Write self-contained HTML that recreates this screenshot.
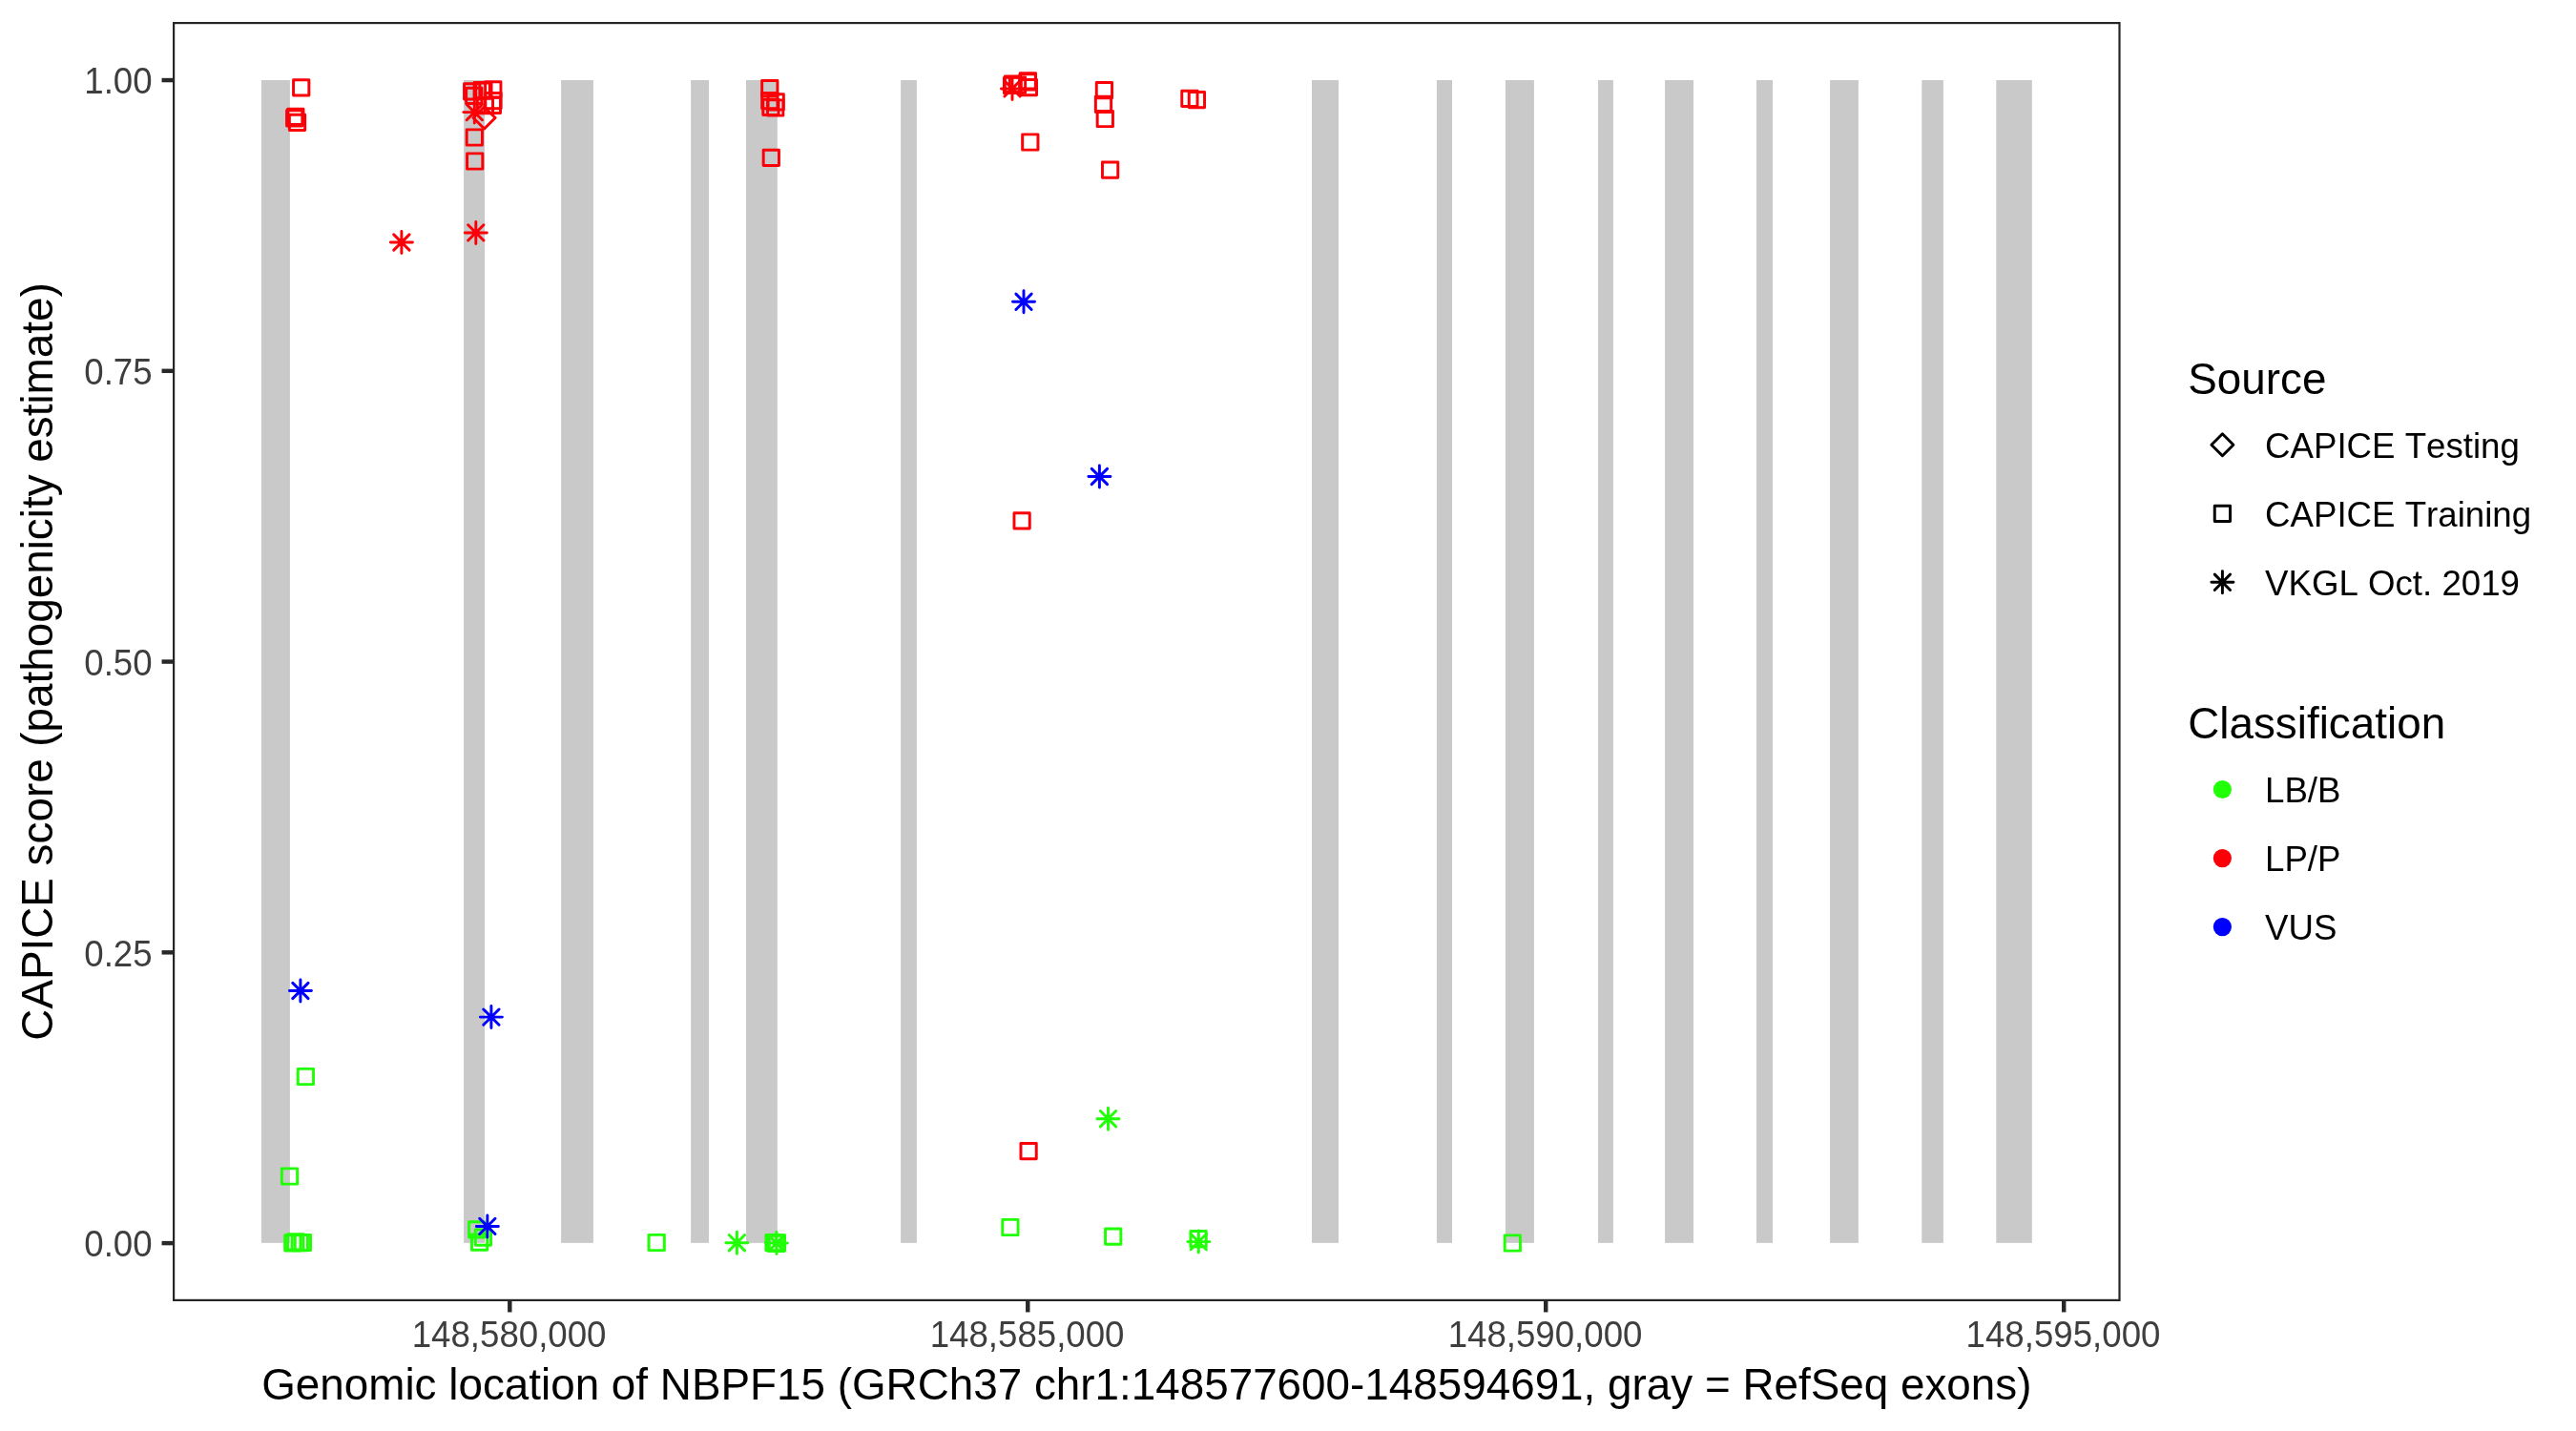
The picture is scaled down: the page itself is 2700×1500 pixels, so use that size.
<!DOCTYPE html>
<html><head><meta charset="utf-8"><title>NBPF15 CAPICE</title>
<style>html,body{margin:0;padding:0;background:#fff}svg{display:block;will-change:transform}text{font-family:"Liberation Sans",sans-serif;font-kerning:none}.t{font-size:36.67px;fill:#3E3E3E}.l{font-size:36.67px;fill:#000}.h{font-size:45.83px;fill:#000}</style></head><body>
<svg width="2700" height="1500" viewBox="0 0 2700 1500">
<rect width="2700" height="1500" fill="#fff"/>
<g fill="#C9C9C9">
<rect x="273.9" y="84" width="30" height="1218.85"/>
<rect x="486.1" y="84" width="21.9" height="1218.85"/>
<rect x="588.1" y="84" width="33.8" height="1218.85"/>
<rect x="724.1" y="84" width="18.9" height="1218.85"/>
<rect x="782" y="84" width="32.8" height="1218.85"/>
<rect x="944.1" y="84" width="16.8" height="1218.85"/>
<rect x="1375" y="84" width="28" height="1218.85"/>
<rect x="1505.9" y="84" width="16.1" height="1218.85"/>
<rect x="1577.9" y="84" width="30" height="1218.85"/>
<rect x="1675" y="84" width="15.9" height="1218.85"/>
<rect x="1745.1" y="84" width="29.9" height="1218.85"/>
<rect x="1841" y="84" width="17" height="1218.85"/>
<rect x="1918.1" y="84" width="29.8" height="1218.85"/>
<rect x="2014.3" y="84" width="22.6" height="1218.85"/>
<rect x="2092.3" y="84" width="37.5" height="1218.85"/>
</g>
<g fill="none" stroke-width="2.95" stroke-linejoin="round" stroke-linecap="round">
<rect x="298.66" y="1294.76" width="16.28" height="16.28" stroke="#21FF06"/>
<rect x="301.56" y="1293.76" width="16.28" height="16.28" stroke="#21FF06"/>
<rect x="306.16" y="1294.46" width="16.28" height="16.28" stroke="#21FF06"/>
<rect x="309.26" y="1294.36" width="16.28" height="16.28" stroke="#21FF06"/>
<rect x="312.26" y="1120.36" width="16.28" height="16.28" stroke="#21FF06"/>
<rect x="295.36" y="1224.86" width="16.28" height="16.28" stroke="#21FF06"/>
<rect x="491.56" y="1280.66" width="16.28" height="16.28" stroke="#21FF06"/>
<rect x="494.46" y="1293.96" width="16.28" height="16.28" stroke="#21FF06"/>
<rect x="498.26" y="1289.06" width="16.28" height="16.28" stroke="#21FF06"/>
<rect x="680.06" y="1294.36" width="16.28" height="16.28" stroke="#21FF06"/>
<path d="M764.26 1294.56L780.54 1310.84M764.26 1310.84L780.54 1294.56M760.89 1302.7L783.91 1302.7M772.4 1291.19L772.4 1314.21" stroke="#21FF06"/>
<rect x="802.86" y="1294.46" width="16.28" height="16.28" stroke="#21FF06"/>
<rect x="805.56" y="1295.16" width="16.28" height="16.28" stroke="#21FF06"/>
<rect x="806.26" y="1294.66" width="16.28" height="16.28" stroke="#21FF06"/>
<path d="M805.76 1294.96L822.04 1311.24M805.76 1311.24L822.04 1294.96M802.39 1303.1L825.41 1303.1M813.9 1291.59L813.9 1314.61" stroke="#21FF06"/>
<rect x="1050.76" y="1278.36" width="16.28" height="16.28" stroke="#21FF06"/>
<rect x="1158.56" y="1288.06" width="16.28" height="16.28" stroke="#21FF06"/>
<rect x="1247.96" y="1290.56" width="16.28" height="16.28" stroke="#21FF06"/>
<path d="M1248.16 1293.46L1264.44 1309.74M1248.16 1309.74L1264.44 1293.46M1244.79 1301.6L1267.81 1301.6M1256.3 1290.09L1256.3 1313.11" stroke="#21FF06"/>
<rect x="1577.16" y="1294.86" width="16.28" height="16.28" stroke="#21FF06"/>
<path d="M1153.36 1164.56L1169.64 1180.84M1153.36 1180.84L1169.64 1164.56M1149.99 1172.7L1173.01 1172.7M1161.5 1161.19L1161.5 1184.21" stroke="#21FF06"/>
<rect x="307.56" y="83.66" width="16.28" height="16.28" stroke="#FB0007"/>
<rect x="300.56" y="115.66" width="16.28" height="16.28" stroke="#FB0007"/>
<rect x="301.66" y="114.26" width="16.28" height="16.28" stroke="#FB0007"/>
<rect x="303.36" y="120.16" width="16.28" height="16.28" stroke="#FB0007"/>
<rect x="486.56" y="87.66" width="16.28" height="16.28" stroke="#FB0007"/>
<rect x="488.66" y="92.26" width="16.28" height="16.28" stroke="#FB0007"/>
<rect x="497.06" y="86.56" width="16.28" height="16.28" stroke="#FB0007"/>
<rect x="498.76" y="87.06" width="16.28" height="16.28" stroke="#FB0007"/>
<rect x="508.66" y="85.81" width="16.28" height="16.28" stroke="#FB0007"/>
<rect x="508.86" y="97.46" width="16.28" height="16.28" stroke="#FB0007"/>
<rect x="508.26" y="102.16" width="16.28" height="16.28" stroke="#FB0007"/>
<rect x="500.26" y="102.46" width="16.28" height="16.28" stroke="#FB0007"/>
<path d="M489.16 109.46L505.44 125.74M489.16 125.74L505.44 109.46M485.79 117.6L508.81 117.6M497.3 106.09L497.3 129.11" stroke="#FB0007"/>
<path d="M496.09 123.5L507.6 111.99L519.11 123.5L507.6 135.01Z" stroke="#FB0007"/>
<rect x="489.16" y="135.86" width="16.28" height="16.28" stroke="#FB0007"/>
<rect x="489.56" y="160.86" width="16.28" height="16.28" stroke="#FB0007"/>
<path d="M412.76 245.86L429.04 262.14M412.76 262.14L429.04 245.86M409.39 254L432.41 254M420.9 242.49L420.9 265.51" stroke="#FB0007"/>
<path d="M490.66 235.76L506.94 252.04M490.66 252.04L506.94 235.76M487.29 243.9L510.31 243.9M498.8 232.39L498.8 255.41" stroke="#FB0007"/>
<rect x="798.66" y="84.56" width="16.28" height="16.28" stroke="#FB0007"/>
<rect x="798.66" y="97.56" width="16.28" height="16.28" stroke="#FB0007"/>
<rect x="805.06" y="98.76" width="16.28" height="16.28" stroke="#FB0007"/>
<rect x="799.76" y="104.16" width="16.28" height="16.28" stroke="#FB0007"/>
<rect x="804.56" y="104.86" width="16.28" height="16.28" stroke="#FB0007"/>
<rect x="800.16" y="157.26" width="16.28" height="16.28" stroke="#FB0007"/>
<path d="M1052.86 84.76L1069.14 101.04M1052.86 101.04L1069.14 84.76M1049.49 92.9L1072.51 92.9M1061 81.39L1061 104.41" stroke="#FB0007"/>
<rect x="1069.26" y="76.66" width="16.28" height="16.28" stroke="#FB0007"/>
<rect x="1069.06" y="77.76" width="16.28" height="16.28" stroke="#FB0007"/>
<rect x="1070.26" y="83.56" width="16.28" height="16.28" stroke="#FB0007"/>
<rect x="1058.36" y="80.96" width="16.28" height="16.28" stroke="#FB0007"/>
<rect x="1053.36" y="79.96" width="16.28" height="16.28" stroke="#FB0007"/>
<rect x="1052.46" y="81.36" width="16.28" height="16.28" stroke="#FB0007"/>
<rect x="1071.66" y="140.86" width="16.28" height="16.28" stroke="#FB0007"/>
<rect x="1149.26" y="86.56" width="16.28" height="16.28" stroke="#FB0007"/>
<rect x="1148.36" y="101.16" width="16.28" height="16.28" stroke="#FB0007"/>
<rect x="1150.16" y="116.36" width="16.28" height="16.28" stroke="#FB0007"/>
<rect x="1155.46" y="170.06" width="16.28" height="16.28" stroke="#FB0007"/>
<rect x="1238.76" y="95.26" width="16.28" height="16.28" stroke="#FB0007"/>
<rect x="1246.26" y="96.46" width="16.28" height="16.28" stroke="#FB0007"/>
<rect x="1062.96" y="537.66" width="16.28" height="16.28" stroke="#FB0007"/>
<rect x="1069.96" y="1198.56" width="16.28" height="16.28" stroke="#FB0007"/>
<path d="M1064.86 308.16L1081.14 324.44M1064.86 324.44L1081.14 308.16M1061.49 316.3L1084.51 316.3M1073 304.79L1073 327.81" stroke="#0000FF"/>
<path d="M1144.26 491.36L1160.54 507.64M1144.26 507.64L1160.54 491.36M1140.89 499.5L1163.91 499.5M1152.4 487.99L1152.4 511.01" stroke="#0000FF"/>
<path d="M306.76 1030.36L323.04 1046.64M306.76 1046.64L323.04 1030.36M303.39 1038.5L326.41 1038.5M314.9 1026.99L314.9 1050.01" stroke="#0000FF"/>
<path d="M506.76 1057.96L523.04 1074.24M506.76 1074.24L523.04 1057.96M503.39 1066.1L526.41 1066.1M514.9 1054.59L514.9 1077.61" stroke="#0000FF"/>
<path d="M502.71 1277.26L518.99 1293.54M502.71 1293.54L518.99 1277.26M499.34 1285.4L522.36 1285.4M510.85 1273.89L510.85 1296.91" stroke="#0000FF"/>
</g>
<rect x="182.1" y="24.1" width="2039.4" height="1338.8" fill="none" stroke="#262626" stroke-width="2.2"/>
<g stroke="#282828" stroke-width="4.45">
<path d="M169.54 1303.1H181"/>
<path d="M169.54 998.34H181"/>
<path d="M169.54 693.57H181"/>
<path d="M169.54 388.81H181"/>
<path d="M169.54 84.05H181"/>
<path d="M534.3 1364V1375.46"/>
<path d="M1077.27 1364V1375.46"/>
<path d="M1620.23 1364V1375.46"/>
<path d="M2163.2 1364V1375.46"/>
</g>
<text class="t" transform="translate(159.6 1317.3) scale(1 1.035)" text-anchor="end">0.00</text>
<text class="t" transform="translate(159.6 1012.54) scale(1 1.035)" text-anchor="end">0.25</text>
<text class="t" transform="translate(159.6 707.77) scale(1 1.035)" text-anchor="end">0.50</text>
<text class="t" transform="translate(159.6 403.01) scale(1 1.035)" text-anchor="end">0.75</text>
<text class="t" transform="translate(159.6 98.25) scale(1 1.035)" text-anchor="end">1.00</text>
<text class="t" transform="translate(533.6 1412.1) scale(1 1.035)" text-anchor="middle">148,580,000</text>
<text class="t" transform="translate(1076.57 1412.1) scale(1 1.035)" text-anchor="middle">148,585,000</text>
<text class="t" transform="translate(1619.53 1412.1) scale(1 1.035)" text-anchor="middle">148,590,000</text>
<text class="t" transform="translate(2162.5 1412.1) scale(1 1.035)" text-anchor="middle">148,595,000</text>
<text class="h" transform="translate(1201.8 1466.9) scale(1 1.015)" text-anchor="middle">Genomic location of NBPF15 (GRCh37 chr1:148577600-148594691, gray = RefSeq exons)</text>
<text class="h" transform="translate(55 693.5) rotate(-90) scale(1 1.015)" text-anchor="middle">CAPICE score (pathogenicity estimate)</text>
<text class="h" transform="translate(2293.2 413) scale(1 1.01)">Source</text>
<g fill="none" stroke-width="2.95" stroke-linejoin="round" stroke-linecap="round">
<path d="M2317.89 466.2L2329.4 454.69L2340.91 466.2L2329.4 477.71Z" stroke="#000"/>
<rect x="2321.26" y="530.16" width="16.28" height="16.28" stroke="#000"/>
<path d="M2321.26 602.16L2337.54 618.44M2321.26 618.44L2337.54 602.16M2317.89 610.3L2340.91 610.3M2329.4 598.79L2329.4 621.81" stroke="#000"/>
</g>
<text class="l" transform="translate(2374 480.2) scale(1 1.01)">CAPICE Testing</text>
<text class="l" transform="translate(2374 552.2) scale(1 1.01)">CAPICE Training</text>
<text class="l" transform="translate(2374 624.1) scale(1 1.01)">VKGL Oct. 2019</text>
<text class="h" transform="translate(2293.2 773.5) scale(1 1.01)">Classification</text>
<circle cx="2329.4" cy="827.5" r="9.6" fill="#21FF06"/>
<circle cx="2329.4" cy="899.6" r="9.6" fill="#FB0007"/>
<circle cx="2329.4" cy="971.6" r="9.6" fill="#0000FF"/>
<text class="l" transform="translate(2374 841.1) scale(1 1.01)">LB/B</text>
<text class="l" transform="translate(2374 913.1) scale(1 1.01)">LP/P</text>
<text class="l" transform="translate(2374 985.1) scale(1 1.01)">VUS</text>
</svg></body></html>
